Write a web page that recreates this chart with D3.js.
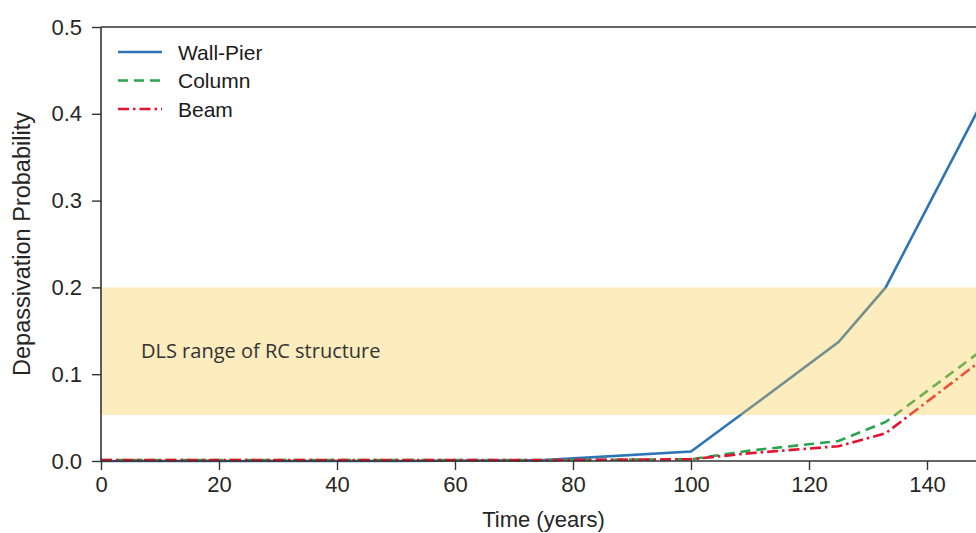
<!DOCTYPE html>
<html>
<head>
<meta charset="utf-8">
<script src="https://cdn.jsdelivr.net/npm/d3@7"></script>
<style>
  body { margin: 0; background: #fff; }
  svg { display: block; }
</style>
</head>
<body>
<svg id="chart"></svg>
<script>
// данные
const years = [0, 25, 50, 75, 100, 110, 125, 133, 150];
const wallPier = [0, 0, 0, 0.001, 0.011, 0.061, 0.137, 0.2, 0.422];
const column = [0.001, 0.001, 0.001, 0.001, 0.002, 0.012, 0.023, 0.045, 0.131];
const beam = [0.001, 0.001, 0.001, 0.001, 0.002, 0.009, 0.017, 0.032, 0.12];
const xTicks = [0, 20, 40, 60, 80, 100, 120, 140];
const yTicks = [0, 0.1, 0.2, 0.3, 0.4, 0.5];
const band = [0.053, 0.2];
const seriesNames = ["Wall-Pier", "Column", "Beam"];

const W = 976, H = 533;
let svg = d3.select("#chart").attr("width", W).attr("height", H);

const x = d3.scaleLinear().domain([0, 150]).range([101, 986]);
const y = d3.scaleLinear().domain([0, 0.5]).range([461, 27]);

const series = [
    { name: seriesNames[0], values: wallPier, color: "#2f74b5", dash: null },
    { name: seriesNames[1], values: column, color: "#2ca34f", dash: "10,6" },
    { name: seriesNames[2], values: beam, color: "#e3122f", dash: "11,4,2.5,4" }
];

const line = d3.line().x((d) => x(d[0])).y((d) => y(d[1]));

// линии
series.forEach((s) => {
    svg.append("path")
        .attr("d", line(years.map((t, i) => [t, s.values[i]])))
        .attr("fill", "none")
        .attr("stroke", s.color)
        .attr("stroke-width", 2.6)
        .attr("stroke-dasharray", s.dash);
});

// полупрозрачная полоса поверх линий
svg.append("rect")
    .attr("x", x(0))
    .attr("y", y(band[1]))
    .attr("width", x(150) - x(0))
    .attr("height", y(band[0]) - y(band[1]))
    .style("fill", "#f9c846")
    .style("fill-opacity", 0.35);

svg.append("text")
    .attr("x", 141)
    .attr("y", 358)
    .style("font-family", "'Open Sans', sans-serif")
    .style("font-size", "20px")
    .style("fill", "#333")
    .text("DLS range of RC structure");

// оси
const xAxis = svg.append("g").attr("transform", `translate(0,${y(0)})`)
    .call(d3.axisBottom(x).tickValues(xTicks).tickSize(9).tickPadding(6).tickFormat(d3.format("d")));
const yAxis = svg.append("g").attr("transform", `translate(${x(0)},0)`)
    .call(d3.axisLeft(y).tickValues(yTicks).tickSize(9).tickPadding(10).tickFormat(d3.format(".1f")));

[xAxis, yAxis].forEach((g) => {
    g.select(".domain").attr("stroke", "#333").attr("stroke-width", 1.6);
    g.selectAll(".tick line").attr("stroke", "#333").attr("stroke-width", 1.4);
    g.selectAll(".tick text")
        .style("font-family", "'Liberation Sans', Arial, sans-serif")
        .style("font-size", "22px")
        .style("fill", "#262626");
});
xAxis.select(".domain").attr("d", `M${x(0)},0H${x(150)}`);
yAxis.select(".domain").attr("d", `M0,${y(0)}V${y(0.5)}`);

// верхняя рамка
svg.append("line")
    .attr("x1", x(0)).attr("x2", x(150))
    .attr("y1", y(0.5)).attr("y2", y(0.5))
    .style("stroke", "#333").style("stroke-width", 1.6);

svg.append("text")
    .attr("x", (x(0) + x(150)) / 2)
    .attr("y", 527)
    .attr("text-anchor", "middle")
    .style("font-family", "'Liberation Sans', Arial, sans-serif")
    .style("font-size", "22px")
    .style("fill", "#262626")
    .text("Time (years)");

svg.append("text")
    .attr("transform", `translate(30,${(y(0) + y(0.5)) / 2}) rotate(-90)`)
    .attr("text-anchor", "middle")
    .style("font-family", "'Liberation Sans', Arial, sans-serif")
    .style("font-size", "23.5px")
    .style("fill", "#262626")
    .text("Depassivation Probability");

// легенда
const legend = svg.append("g").attr("transform", "translate(118,52)");
series.forEach((s, i) => {
    legend.append("line")
        .attr("x1", 0).attr("x2", 44)
        .attr("y1", i * 28.5).attr("y2", i * 28.5)
        .style("stroke", s.color)
        .style("stroke-width", 2.6)
        .style("stroke-dasharray", s.dash);
    legend.append("text")
        .attr("x", 60)
        .attr("y", i * 28.5)
        .attr("dy", "0.36em")
        .style("font-family", "'Liberation Sans', Arial, sans-serif")
        .style("font-size", "21px")
        .style("fill", "#1a1a1a")
        .text(s.name);
});
</script>
</body>
</html>
